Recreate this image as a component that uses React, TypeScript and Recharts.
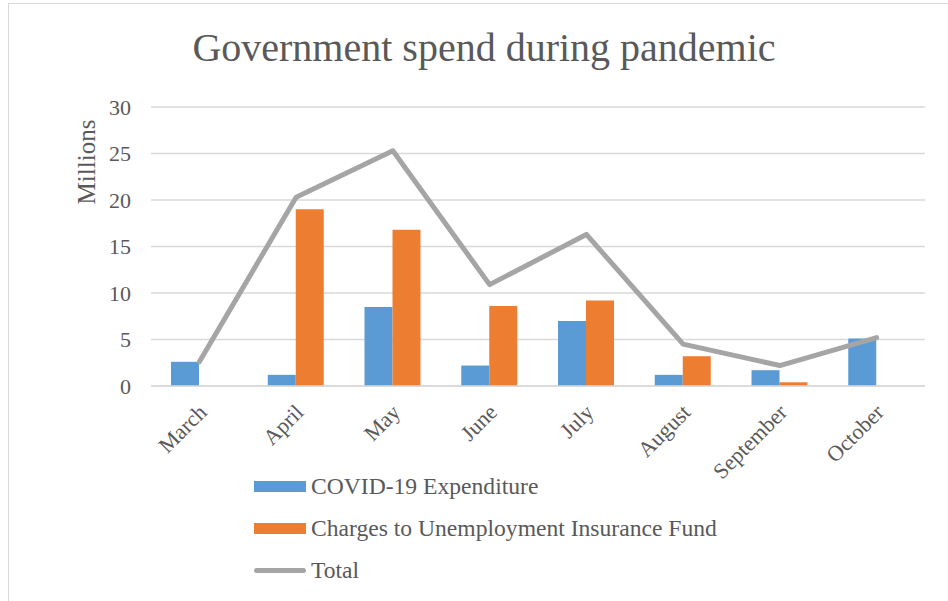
import { ComposedChart, Bar, Line, XAxis, YAxis, CartesianGrid, Legend } from "recharts"

const months = ["March", "April", "May", "June", "July", "August", "September", "October"]
const covidSpend = [2.6, 1.2, 8.5, 2.2, 7.0, 1.2, 1.7, 5.1]
const uifCharges = [0, 19.0, 16.8, 8.6, 9.2, 3.2, 0.4, 0]
const totalSpend = [2.6, 20.3, 25.3, 10.9, 16.3, 4.5, 2.2, 5.2]
const yTicks = [0, 5, 10, 15, 20, 25, 30]

const seriesNames = ["COVID-19 Expenditure", "Charges to Unemployment Insurance Fund", "Total"]

const data = months.map((m, i) => ({
  month: m,
  covid: covidSpend[i],
  uif: uifCharges[i],
  total: totalSpend[i],
}))

const FONT = '"Liberation Serif", "Times New Roman", serif'
const TEXT = "#595959"

function MonthTick({ x, y, payload }: any) {
  const px = x - 3
  const py = y + 8
  return (
    <text
      x={px}
      y={py}
      transform={`rotate(-45 ${px} ${py})`}
      textAnchor="end"
      dy="0.75em"
      fill={TEXT}
      fontSize={22}
      fontFamily={FONT}
    >
      {payload.value}
    </text>
  )
}

function LegendBox({ payload }: any) {
  const items = seriesNames.map((n) => (payload || []).find((p: any) => p.value === n)).filter(Boolean)
  return (
    <div style={{ fontFamily: FONT, fontSize: 23.6, color: TEXT }}>
      {items.map((p: any) => (
        <div key={p.value} style={{ display: "flex", alignItems: "center", height: 42 }}>
          {p.type === "line" ? (
            <span style={{ width: 52, height: 5, borderRadius: 3, background: p.color, marginRight: 5 }} />
          ) : (
            <span style={{ width: 52, height: 11, background: p.color, marginRight: 5 }} />
          )}
          <span>{p.value}</span>
        </div>
      ))}
    </div>
  )
}

export default function App() {
  return (
    <div style={{ position: "absolute", left: 0, top: 0, width: 948, height: 601, overflow: "hidden", background: "#fff" }}>
      <div style={{ position: "absolute", left: 8, top: 3, width: 980, height: 640, border: "1px solid #d9d9d9" }} />
      <div
        style={{
          position: "absolute",
          left: 0,
          width: 968,
          top: 24,
          textAlign: "center",
          fontFamily: FONT,
          fontSize: 40,
          color: TEXT,
          lineHeight: "48px",
        }}
      >
        Government spend during pandemic
      </div>
      <div
        style={{
          position: "absolute",
          left: 87,
          top: 162,
          transform: "translate(-50%, -50%) rotate(-90deg)",
          fontFamily: FONT,
          fontSize: 25,
          color: TEXT,
          whiteSpace: "nowrap",
        }}
      >
        Millions
      </div>
      <ComposedChart
        width={948}
        height={601}
        data={data}
        margin={{ top: 107, right: 23, bottom: 0, left: 0 }}
        barGap={0}
        style={{ position: "absolute", left: 0, top: 0 }}
      >
        <CartesianGrid vertical={false} stroke="#d9d9d9" strokeWidth={1.5} />
        <XAxis
          dataKey="month"
          height={215}
          axisLine={{ stroke: "#d9d9d9", strokeWidth: 1.5 }}
          tickLine={false}
          tick={<MonthTick />}
          interval={0}
        />
        <YAxis
          width={151}
          domain={[0, 30]}
          ticks={yTicks}
          axisLine={false}
          tickLine={false}
          tickSize={0}
          tickMargin={20}
          tick={{ fill: TEXT, fontSize: 22, fontFamily: FONT }}
        />
        <Bar dataKey="covid" name={seriesNames[0]} fill="#5b9bd5" barSize={28} isAnimationActive={false} />
        <Bar dataKey="uif" name={seriesNames[1]} fill="#ed7d31" barSize={28} isAnimationActive={false} />
        <Line
          dataKey="total"
          name={seriesNames[2]}
          type="linear"
          stroke="#a5a5a5"
          strokeWidth={5}
          strokeLinejoin="round"
          strokeLinecap="round"
          dot={false}
          activeDot={false}
          isAnimationActive={false}
        />
        <Legend
          layout="vertical"
          align="center"
          verticalAlign="middle"
          content={<LegendBox />}
          wrapperStyle={{ position: "absolute", left: 254, top: 465, width: 540, height: 130 }}
        />
      </ComposedChart>
    </div>
  )
}
